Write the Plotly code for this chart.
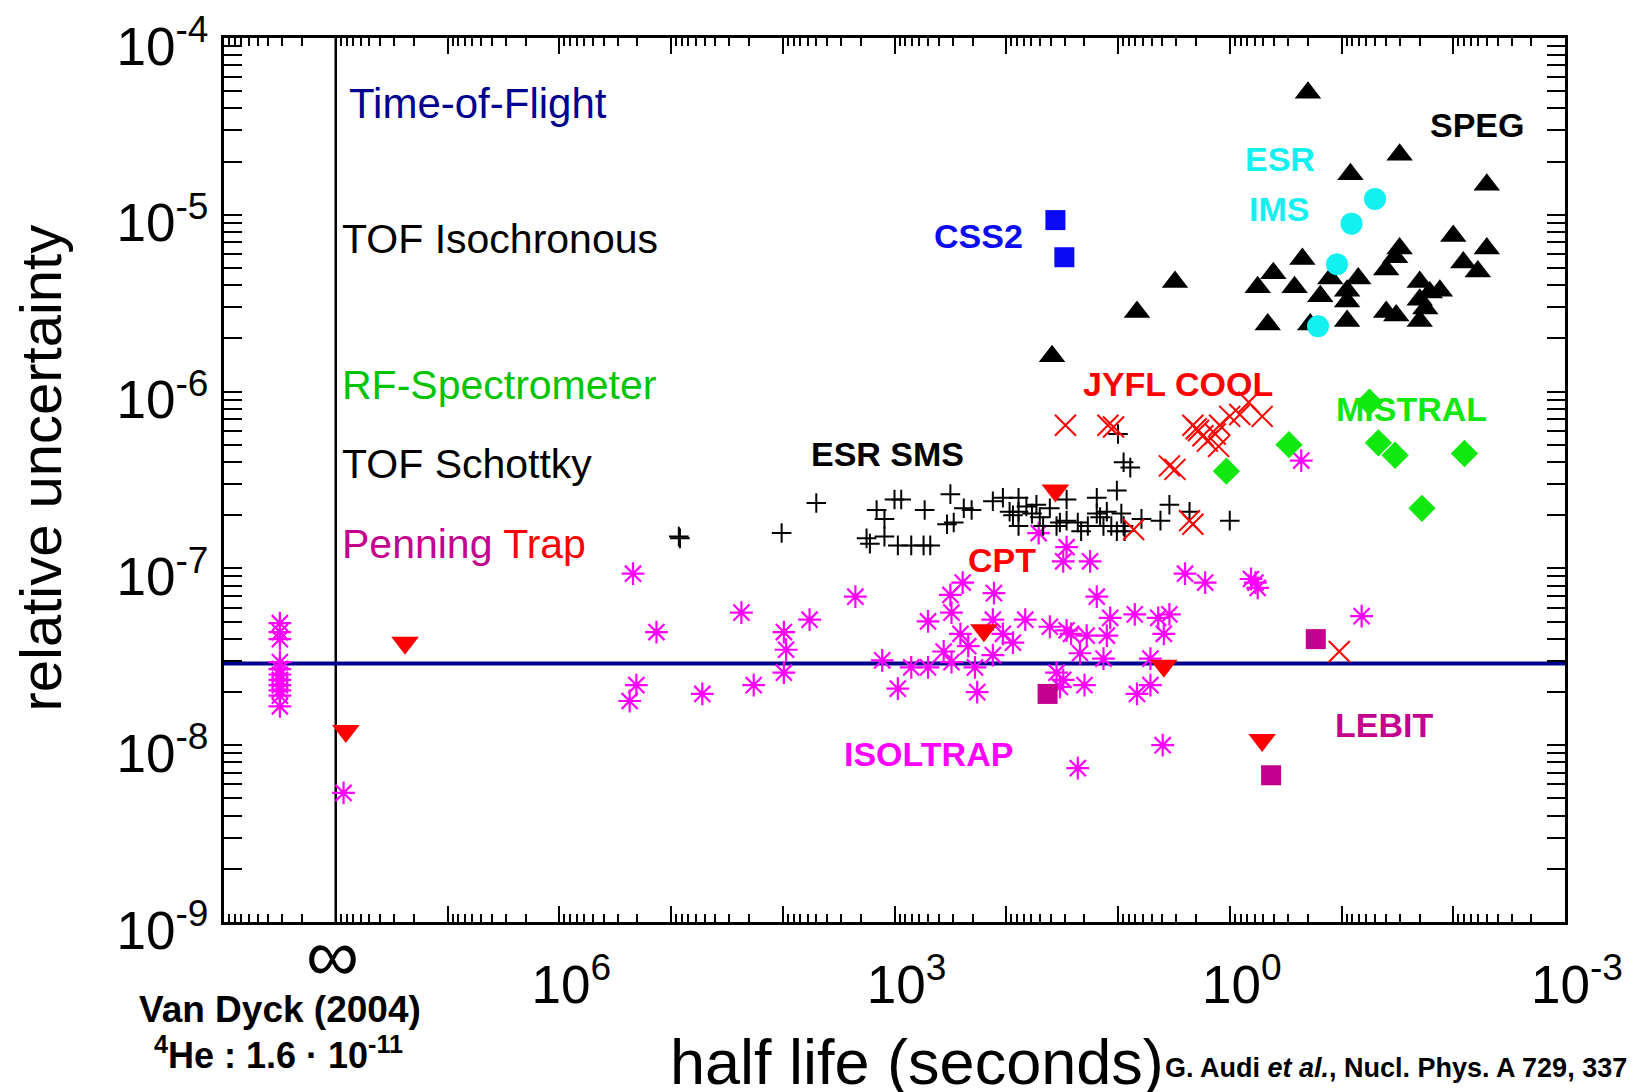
import numpy as np
import plotly.graph_objects as go

# ---- data: (log10 half-life [s], log10 relative uncertainty) ----
# stable nuclides are placed left of the "infinity" line
isoltrap = [
    (8.50, -7.31), (8.50, -7.36), (8.50, -7.40), (8.50, -7.53), (8.50, -7.57), (8.50, -7.60),
    (8.50, -7.63), (8.50, -7.66), (8.50, -7.69), (8.50, -7.72), (8.50, -7.78),
    (7.93, -8.27), (5.34, -7.03), (5.13, -7.36), (5.31, -7.66), (5.37, -7.75),
    (4.72, -7.71), (4.37, -7.25), (4.26, -7.66), (3.99, -7.36), (3.97, -7.46), (3.99, -7.59),
    (3.76, -7.29), (3.35, -7.16), (3.11, -7.52), (2.97, -7.68), (2.85, -7.56), (2.70, -7.56),
    (2.70, -7.30), (2.50, -7.15), (2.49, -7.25), (2.39, -7.08), (2.41, -7.37), (2.56, -7.47),
    (2.49, -7.53), (2.34, -7.44), (2.28, -7.56), (2.26, -7.70), (2.11, -7.14), (2.12, -7.29),
    (2.12, -7.49), (2.03, -7.37), (1.94, -7.42), (1.83, -7.29), (1.61, -7.33),
    (1.71, -6.80), (1.46, -6.88), (1.49, -6.96), (1.25, -6.96),
    (0.40, -7.03), (0.22, -7.08), (-0.19, -7.06), (-0.25, -7.11), (-0.23, -7.08), (1.19, -7.16),
    (1.07, -7.28), (0.85, -7.26), (0.64, -7.28), (0.54, -7.26), (0.59, -7.37), (1.46, -7.35),
    (1.42, -7.37), (1.28, -7.38), (1.10, -7.38), (1.34, -7.48), (1.13, -7.51), (0.71, -7.51),
    (1.49, -7.63), (1.30, -7.66), (0.71, -7.66), (0.83, -7.71), (1.52, -7.67), (0.60, -8.00),
    (1.36, -8.13), (-1.18, -7.27), (-0.64, -6.39), (1.55, -7.59),
]
esr_sms = [
    (4.93, -6.82), (4.92, -6.83), (4.01, -6.80), (3.70, -6.63), (3.16, -6.67), (3.09, -6.72),
    (3.00, -6.61), (2.94, -6.61), (2.73, -6.67), (2.50, -6.58), (2.47, -6.74), (2.53, -6.75),
    (3.25, -6.83), (3.22, -6.86), (3.09, -6.82), (2.97, -6.87), (2.85, -6.87), (2.74, -6.87),
    (2.68, -6.87), (2.38, -6.66), (2.31, -6.67), (2.12, -6.62), (2.03, -6.60), (1.89, -6.60),
    (1.89, -6.68), (1.82, -6.65), (1.73, -6.64), (1.94, -6.70), (1.89, -6.76), (1.70, -6.71),
    (1.61, -6.66), (1.55, -6.76), (1.46, -6.61), (1.46, -6.73), (1.36, -6.74), (1.33, -6.79),
    (1.19, -6.60), (1.19, -6.69), (1.10, -6.68), (1.13, -6.76), (1.01, -6.56), (0.97, -6.69),
    (1.01, -6.79), (0.94, -6.79), (0.79, -6.72), (0.62, -6.73), (0.54, -6.64), (0.36, -6.68),
    (0.00, -6.73), (1.00, -6.24), (0.95, -6.40), (0.89, -6.43), (1.97, -6.68), (1.77, -6.69),
    (1.67, -6.76), (1.52, -6.74), (1.27, -6.76), (1.16, -6.71), (1.06, -6.76), (0.95, -6.76),
]
jyfl = [
    (1.47, -6.19), (1.09, -6.19), (1.04, -6.20), (0.54, -6.42), (0.49, -6.44), (0.33, -6.19),
    (0.28, -6.22), (0.24, -6.25), (0.10, -6.31), (0.09, -6.19), (0.00, -6.14), (-0.09, -6.13),
    (-0.17, -6.06), (-0.29, -6.14), (0.86, -6.78), (0.36, -6.73), (0.33, -6.75), (-0.98, -7.47),
    (0.13, -6.24), (0.20, -6.28), (0.30, -6.21),
]
cpt = [(7.38, -7.42), (7.91, -7.92), (1.56, -6.56), (2.20, -7.35), (0.59, -7.55), (-0.29, -7.97)]
lebit = [(1.63, -7.71), (-0.77, -7.40), (-0.37, -8.17)]
css2 = [(1.56, -5.03), (1.48, -5.24)]
esr_ims = [(-1.30, -4.91), (-1.09, -5.05), (-0.96, -5.28), (-0.79, -5.63)]
mistral = [(0.03, -6.45), (-0.53, -6.30), (-1.25, -6.06), (-1.33, -6.29), (-1.48, -6.36),
           (-2.10, -6.35), (-1.72, -6.66)]
speg = [
    (-0.70, -4.31), (-1.52, -4.66), (-1.08, -4.77), (-2.30, -4.83), (-2.00, -5.12), (-2.30, -5.19),
    (-1.52, -5.19), (-1.48, -5.24), (-1.40, -5.31), (-2.09, -5.27), (-2.22, -5.32), (-0.65, -5.25),
    (-0.39, -5.33), (-0.25, -5.41), (-0.58, -5.41), (-0.90, -5.36), (-1.15, -5.36), (-0.81, -5.46),
    (-1.05, -5.43), (-1.05, -5.49), (-1.05, -5.60), (-1.70, -5.38), (-1.79, -5.44), (-1.88, -5.43),
    (-1.70, -5.48), (-1.75, -5.53), (-1.40, -5.55), (-1.49, -5.57), (-1.70, -5.60), (-0.34, -5.62),
    (-0.72, -5.62), (0.49, -5.38), (0.83, -5.55), (1.59, -5.80),
]
infinity_halflife = 1e8          # position of the "infinity" line
tof_level = 2.9e-8               # horizontal reference line

x_tick_labels = {6: "10<sup>6</sup>", 3: "10<sup>3</sup>", 0: "10<sup>0</sup>", -3: "10<sup>-3</sup>"}
y_tick_labels = {-9: "10<sup>-9</sup>", -8: "10<sup>-8</sup>", -7: "10<sup>-7</sup>",
                 -6: "10<sup>-6</sup>", -5: "10<sup>-5</sup>", -4: "10<sup>-4</sup>"}

FONT = "Liberation Sans"
NAVY = "#00008f"
PURPLE = "#c4008f"

fig = go.Figure()


def add(points, symbol, size, color, lw=0.0):
    a = np.array(points, dtype=float)
    fig.add_trace(go.Scatter(
        x=10 ** a[:, 0], y=10 ** a[:, 1], mode="markers", showlegend=False, hoverinfo="skip",
        marker=dict(symbol=symbol, size=size, color=color, line=dict(width=lw, color=color))))


add(isoltrap, "asterisk-open", 19, "#ff00ff", 2.2)
add(esr_sms, "cross-thin-open", 14, "black", 2)
add(jyfl, "x-thin-open", 21, "#ff0000", 2)
add(cpt, "triangle-down", 24, "#ff0000")
add(lebit, "square", 20, PURPLE)
add(css2, "square", 20, "#0a0af5")
add(speg, "triangle-up", 23, "black")
add(esr_ims, "circle", 22, "#12f0f0")
add(mistral, "diamond", 21, "#10e810")
# empty trace that carries the unlabeled decade-tick axis
fig.add_trace(go.Scatter(x=[], y=[], xaxis="x2", yaxis="y", mode="markers",
                         showlegend=False, hoverinfo="skip"))

# reference lines
fig.add_shape(type="line", xref="x", yref="paper", x0=infinity_halflife, x1=infinity_halflife,
              y0=0, y1=1, line=dict(color="black", width=2.5), layer="below")
fig.add_shape(type="line", xref="paper", yref="y", x0=0, x1=1, y0=tof_level, y1=tof_level,
              line=dict(color=NAVY, width=4), layer="below")

x_labeled = sorted(x_tick_labels)
x_major = [10.0 ** k for k in x_labeled]
x_text = [x_tick_labels[k] for k in x_labeled]
x_decades = [10.0 ** k for k in range(9, -4, -1)]
y_major = [10.0 ** k for k in range(-9, -3)]
y_text = [y_tick_labels[k] for k in range(-9, -3)]
minor_vals = [m * 10.0 ** k for k in range(-10, 10) for m in range(2, 10)]

common = dict(showline=True, linewidth=3, linecolor="black", mirror="allticks",
              showgrid=False, zeroline=False, automargin=False)

fig.update_layout(
    xaxis=dict(
        type="log", range=[9, -3], tickmode="array", tickvals=x_major, ticktext=x_text,
        ticks="inside", ticklen=16, tickwidth=2, tickcolor="black",
        ticklabelstandoff=14, ticklabelshift=-12,
        tickfont=dict(family=FONT, size=53, color="black"),
        minor=dict(tickmode="array", tickvals=minor_vals, ticks="inside", ticklen=8,
                   tickwidth=1.5, tickcolor="black", showgrid=False),
        **common),
    xaxis2=dict(
        type="log", range=[9, -3], overlaying="x", anchor="y", side="bottom",
        tickmode="array", tickvals=x_decades, showticklabels=False,
        ticks="inside", ticklen=16, tickwidth=2, tickcolor="black", **common),
    yaxis=dict(
        type="log", range=[-9, -4], tickmode="array", tickvals=y_major, ticktext=y_text,
        ticks="inside", ticklen=18, tickwidth=2, tickcolor="black",
        ticklabelstandoff=2, ticklabelshift=8,
        tickfont=dict(family=FONT, size=53, color="black"),
        minor=dict(tickmode="array", tickvals=minor_vals, ticks="inside", ticklen=10,
                   tickwidth=1.5, tickcolor="black", showgrid=False),
        **common),
)

ann = []


def label(text, x, y, size, color="black", xanchor="center", xref="x", yref="y", angle=0):
    ann.append(dict(text=text, x=x, y=y, xref=xref, yref=yref, showarrow=False,
                    xanchor=xanchor, yanchor="middle", textangle=angle,
                    font=dict(family=FONT, size=size, color=color)))


# method labels (regular)
label("Time-of-Flight", 7.90, -4.37, 42, NAVY, "left")
label("TOF Isochronous", 7.96, -5.135, 41, "black", "left")
label("RF-Spectrometer", 7.96, -5.96, 41, "#00c400", "left")
label("TOF Schottky", 7.96, -6.408, 41, "black", "left")
label("<span style='color:%s'>Penning</span> <span style='color:#ff0000'>Trap</span>" % PURPLE,
      7.96, -6.861, 41, PURPLE, "left")

# experiment labels (bold)
label("<b>CSS2</b>", 2.244, -5.118, 34, "#0a0af5")
label("<b>SPEG</b>", -2.213, -4.492, 34, "black")
label("<b>ESR</b>", -0.45, -4.682, 34, "#12f0f0")
label("<b>IMS</b>", -0.44, -4.965, 34, "#12f0f0")
label("<b>ESR SMS</b>", 3.063, -6.351, 34, "black")
label("<b>JYFL COOL</b>", 0.463, -5.955, 34, "#ff0000")
label("<b>MISTRAL</b>", -1.622, -6.10, 34, "#10e810")
label("<b>CPT</b>", 2.038, -6.951, 34, "#ff0000")
label("<b>ISOLTRAP</b>", 2.70, -8.049, 34, "#ff00ff")
label("<b>LEBIT</b>", -1.38, -7.885, 34, PURPLE)

# below the axes
label("∞", 8.03, -0.0374, 74, "black", "center", "x", "paper")
label("<b>Van Dyck (2004)</b>", 8.50, -0.099, 37, "black", "center", "x", "paper")
label("<b><sup>4</sup>He : 1.6 · 10<sup>-11</sup></b>", 8.51, -0.148, 36, "black", "center", "x", "paper")
label("half life (seconds)", 0.5168, -0.1585, 63, "black", "center", "paper", "paper")
label("relative uncertainty", -0.1365, 0.514, 58, "black", "center", "paper", "paper", -90)
label("<b>G. Audi <i>et al.</i>, Nucl. Phys. A 729, 337 (2003)</b>", 0.7005, -0.165, 27,
      "black", "left", "paper", "paper")
label("<b>D. Lunney <i>et al.</i>, Rev. Mod. Phys. 75, 1021 (2003)</b>", 0.7005, -0.207, 27,
      "#aaaaaa", "left", "paper", "paper")

fig.update_layout(
    width=1632, height=1092, autosize=False,
    margin=dict(l=224, r=67, t=38, b=170, pad=0),
    paper_bgcolor="white", plot_bgcolor="white",
    annotations=ann, showlegend=False,
)

fig.write_html("out.html")
